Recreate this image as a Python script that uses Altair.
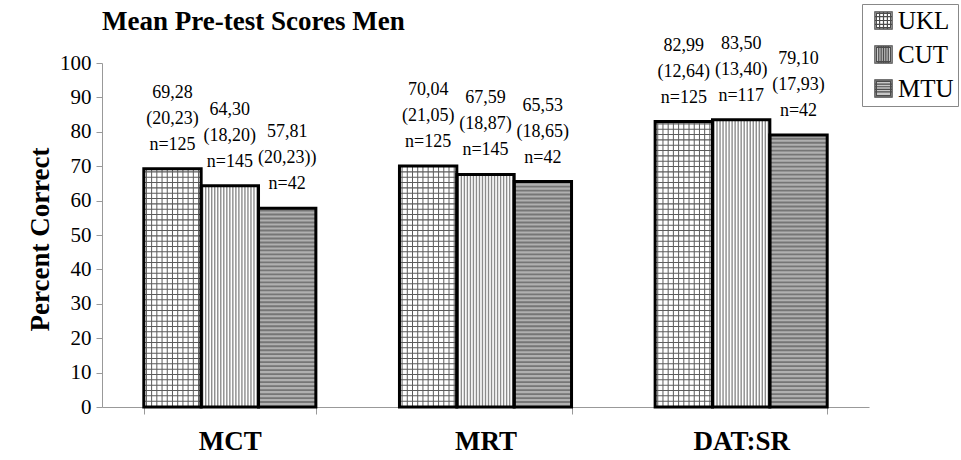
import altair as alt
import pandas as pd

# ---------------- data ----------------
groups = ["MCT", "MRT", "DAT:SR"]
series = ["UKL", "CUT", "MTU"]

ukl_means = [69.28, 70.04, 82.99]
cut_means = [64.30, 67.59, 83.50]
mtu_means = [57.81, 65.53, 79.10]

ukl_mean_text = ["69,28", "70,04", "82,99"]
cut_mean_text = ["64,30", "67,59", "83,50"]
mtu_mean_text = ["57,81", "65,53", "79,10"]

ukl_sd_text = ["(20,23)", "(21,05)", "(12,64)"]
cut_sd_text = ["(18,20)", "(18,87)", "(13,40)"]
mtu_sd_text = ["(20,23))", "(18,65)", "(17,93)"]

ukl_n = [125, 125, 125]
cut_n = [145, 145, 117]
mtu_n = [42, 42, 42]

y_ticks = [0, 10, 20, 30, 40, 50, 60, 70, 80, 90, 100]

# ---------------- styles ----------------
FONT = "Liberation Serif"
W, H = 767, 344
base_fill = ["#ffffff", "#ffffff", "#b0b0b0"]
# legend symbols: square border + inner pattern lines (unit square -1..1)
border = "M-1,-1H1V1H-1Z M-0.82,-0.82H0.82V0.82H-0.82Z "
sym_ukl = border + "M-0.45,-1V1 M0,-1V1 M0.45,-1V1 M-1,-0.45H1 M-1,0H1 M-1,0.45H1"
sym_cut = border + "M-0.6,-1V1 M-0.4,-1V1 M-0.2,-1V1 M0,-1V1 M0.2,-1V1 M0.4,-1V1 M0.6,-1V1"
sym_mtu = border + "M-1,-0.5H1 M-1,-0.2H1 M-1,0.1H1 M-1,0.4H1"
shapes = [sym_ukl, sym_cut, sym_mtu]

UKL_VLINES = 11      # grid columns inside a UKL bar
UKL_HSTEP = 1.55     # grid row step (percent units)
CUT_VLINES = 19      # vertical stripes in a CUT bar
MTU_HSTEP = 1.16     # horizontal stripe step (percent units)
MTU_HTHICK = 0.55

# ---------------- tables ----------------
means = {"UKL": ukl_means, "CUT": cut_means, "MTU": mtu_means}
mtxt = {"UKL": ukl_mean_text, "CUT": cut_mean_text, "MTU": mtu_mean_text}
stxt = {"UKL": ukl_sd_text, "CUT": cut_sd_text, "MTU": mtu_sd_text}
ns = {"UKL": ukl_n, "CUT": cut_n, "MTU": mtu_n}

rows = []
for si, s in enumerate(series):
    for gi, g in enumerate(groups):
        rows.append({
            "group": g, "series": s, "sidx": si, "value": means[s][gi],
            "label": f"{mtxt[s][gi]}\n{stxt[s][gi]}\nn={ns[s][gi]}",
        })
df = pd.DataFrame(rows)

# vertical pattern lines (UKL grid columns, CUT stripes)
vl_rows = []
for r in rows:
    if r["series"] == "UKL":
        n = UKL_VLINES
    elif r["series"] == "CUT":
        n = CUT_VLINES
    else:
        continue
    for k in range(n):
        vl_rows.append({"group": r["group"], "series": r["series"],
                        "pos": r["sidx"] + (k + 0.5) / n, "value": r["value"]})
vdf = pd.DataFrame(vl_rows)

# horizontal pattern lines (UKL grid rows, MTU stripes)
hl_rows = []
for r in rows:
    if r["series"] == "UKL":
        step, thick = UKL_HSTEP, 0.3
    elif r["series"] == "MTU":
        step, thick = MTU_HSTEP, MTU_HTHICK
    else:
        continue
    k = 1
    while k * step < r["value"]:
        lo = k * step
        hl_rows.append({"group": r["group"], "series": r["series"],
                        "lo": lo, "hi": min(lo + thick, r["value"])})
        k += 1
hdf = pd.DataFrame(hl_rows)

# ---------------- encodings ----------------
xscale = alt.Scale(domain=groups, paddingInner=0.327, paddingOuter=0.1635)
yscale = alt.Scale(domain=[0, 100], nice=False)
xoff_nom = alt.XOffset("series:N", scale=alt.Scale(type="band", domain=series, paddingInner=0, paddingOuter=0), sort=series)

x_axis = alt.Axis(
    title=None, labelAngle=0, labelFont=FONT, labelFontWeight="bold", labelFontSize=27,
    labelColor="black", labelPadding=14, tickBand="extent", tickSize=7,
    tickColor="#999999", domainColor="#999999", ticks=True, grid=False,
)
y_axis = alt.Axis(
    title="Percent Correct", values=y_ticks, labelFont=FONT, labelFontSize=21,
    labelColor="black", labelPadding=5, tickSize=6, tickColor="#999999",
    domainColor="#999999", grid=False, titleFont=FONT, titleFontSize=27,
    titleFontWeight="bold", titleColor="black", titleAngle=-90, titleX=-62,
    titleY=H / 2 + 4, titleAlign="center", titleBaseline="middle", labelOverlap=False,
)

def Y(field):
    return alt.Y(field, scale=yscale, axis=y_axis)

legend = alt.Legend(
    title=None, orient="none", legendX=760, legendY=-59, strokeColor="#888888",
    padding=4, labelFont=FONT, labelFontSize=25, labelColor="black",
    symbolSize=300, symbolStrokeColor="black", symbolStrokeWidth=1.2,
    rowPadding=8, labelOffset=2, symbolOffset=5,
)

fill_enc = alt.Fill("series:N", scale=alt.Scale(domain=series, range=base_fill), legend=legend)

X = alt.X("group:N", scale=xscale, sort=groups, axis=x_axis)
X0 = alt.X("group:N", scale=xscale, sort=groups, axis=x_axis, bandPosition=0)
pos_scale = alt.Scale(domain=[0, 3], nice=False, zero=False)

bars = alt.Chart(df).mark_bar().encode(
    x=X, xOffset=xoff_nom, y=Y("value:Q"), fill=fill_enc,
)

legend_pts = alt.Chart(df).transform_filter(alt.datum.value < 0).mark_point(
    filled=True, stroke="black", strokeWidth=1.2
).encode(
    x=X, y=Y("value:Q"),
    fill=fill_enc,
    shape=alt.Shape("series:N", scale=alt.Scale(domain=series, range=shapes), legend=legend),
)

ukl_h = alt.Chart(hdf).transform_filter(alt.datum.series == "UKL").mark_bar(color="#5c5c5c").encode(
    x=X, xOffset=xoff_nom, y=Y("lo:Q"), y2="hi:Q",
)
mtu_h = alt.Chart(hdf).transform_filter(alt.datum.series == "MTU").mark_bar(color="#767676").encode(
    x=X, xOffset=xoff_nom, y=Y("lo:Q"), y2="hi:Q",
)

vpos = alt.XOffset("pos:Q", scale=pos_scale)
ukl_v = alt.Chart(vdf).transform_filter(alt.datum.series == "UKL").mark_rule(
    color="#5c5c5c", strokeWidth=1).encode(
    x=X0, xOffset=vpos, y=Y("value:Q"), y2=alt.datum(0),
)
cut_v = alt.Chart(vdf).transform_filter(alt.datum.series == "CUT").mark_rule(
    color="#8c8c8c", strokeWidth=1.4).encode(
    x=X0, xOffset=vpos, y=Y("value:Q"), y2=alt.datum(0),
)

outline = alt.Chart(df).mark_bar(fillOpacity=0, stroke="black", strokeWidth=3).encode(
    x=X, xOffset=xoff_nom, y=Y("value:Q"),
)

labels = alt.Chart(df).transform_calculate(
    center="datum.sidx + 0.5"
).mark_text(
    font=FONT, fontSize=18, color="black", lineBreak="\n", lineHeight=26,
    baseline="alphabetic", dy=-71,
).encode(
    x=X0, xOffset=alt.XOffset("center:Q", scale=pos_scale), y=Y("value:Q"), text="label:N",
)

chart = alt.layer(
    bars, ukl_h, mtu_h, ukl_v, cut_v, outline, labels, legend_pts
).resolve_scale(
    xOffset="independent"
).properties(
    width=W, height=H,
    padding={"left": 102, "top": 63, "right": 92, "bottom": 53},
    autosize=alt.AutoSizeParams(type="none"),
    title=alt.Title(
        "Mean Pre-test Scores Men", anchor="start", frame="group", font=FONT,
        fontSize=27, fontWeight="bold", color="black", offset=0, dy=53,
        baseline="alphabetic",
    ),
).configure_view(
    stroke=None
)

chart.save("out.html", embed_options={"renderer": "svg", "actions": False})
